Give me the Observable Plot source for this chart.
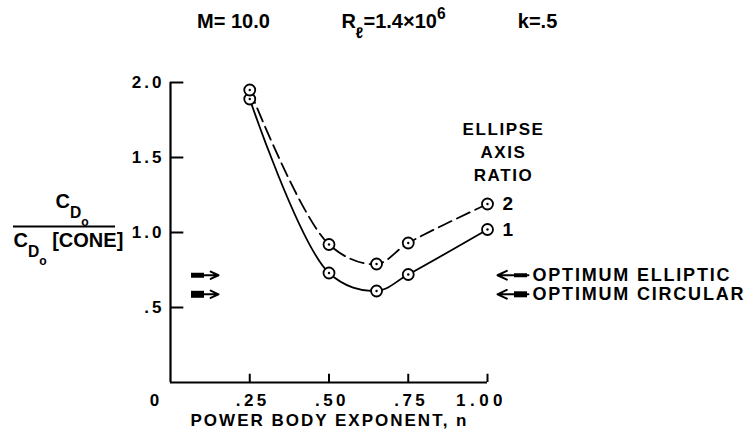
<!DOCTYPE html>
<html><head><meta charset="utf-8">
<script src="https://cdn.jsdelivr.net/npm/d3@7"></script>
<script src="https://cdn.jsdelivr.net/npm/@observablehq/plot@0.6"></script>
<style>
body{margin:0;background:#fff;}
#chart svg{display:block;}
</style></head><body><div id="chart"></div>
<script>
// ---- data ----
const exponents = [0.25, 0.50, 0.65, 0.75, 1.00];
const ratio1 = [1.89, 0.73, 0.61, 0.72, 1.02];
const ratio2 = [1.95, 0.92, 0.79, 0.93, 1.19];
const seriesNames = ["1", "2"];
const optimumNames = ["OPTIMUM ELLIPTIC", "OPTIMUM CIRCULAR"];
const optimumValues = [0.715, 0.588];
const xTicks = [0, 0.25, 0.5, 0.75, 1.0];
const xTickLabels = ["0", ".25", ".50", ".75", "1.00"];
const yTicks = [0.5, 1.0, 1.5, 2.0];
const yTickLabels = [".5", "1.0", "1.5", "2.0"];
const headerTexts = ["M= 10.0", "R_{ℓ}=1.4×10^{6}", "k=.5"];
const xTitle = "POWER BODY EXPONENT, n";
const legendTitle = "ELLIPSE\nAXIS\nRATIO";

// ---- layout ----
const W = 746, H = 438;
const M = {left: 170, right: 259, top: 82, bottom: 56};
const px2x = p => (p - M.left) / (W - M.left - M.right);
const px2y = p => 2 * (H - M.bottom - p) / (H - M.top - M.bottom);

const series = [ratio1, ratio2].map((vals, k) =>
  exponents.map((n, i) => ({n, v: vals[i], ratio: seriesNames[k]})));
const allPts = series.flat();
const lastPts = series.map(s => s[s.length - 1]);

const FONT = "'Liberation Sans', Arial, sans-serif";
const T = (data, o) => Plot.text(data, {fontWeight: "bold", fill: "black", ...o});
const note = (txt, px, py, o = {}) => T([txt], {x: px2x(px), y: px2y(py), text: d => d, ...o});

const arrowRows = optimumValues.map((v, i) => ({v, name: optimumNames[i]}));

const plot = Plot.plot({
  width: W, height: H,
  marginLeft: M.left, marginRight: M.right, marginTop: M.top, marginBottom: M.bottom,
  x: {domain: [0, 1], axis: null},
  y: {domain: [0, 2], axis: null},
  style: {fontFamily: FONT, background: "white", color: "black"},
  marks: [
    // axes
    Plot.ruleX([0], {y1: 0, y2: 2, strokeWidth: 2.2}),
    Plot.ruleY([0], {x1: 0, x2: 1, strokeWidth: 2.2}),
    Plot.ruleY(yTicks, {x1: 0, x2: 0.042, strokeWidth: 2}),
    Plot.ruleX(xTicks.slice(1), {y1: 0, y2: 0.055, strokeWidth: 2}),
    T(yTicks, {x: 0, y: d => d, text: (d, i) => yTickLabels[i], textAnchor: "end", dx: -6, fontSize: 17}),
    T(xTicks.slice(0, 1), {x: d => d, y: 0, text: (d, i) => xTickLabels[i], dx: -16, dy: 18, fontSize: 17}),
    T(xTicks.slice(1, 4), {x: d => d, y: 0, text: (d, i) => xTickLabels[i + 1], dx: 3, dy: 18, fontSize: 17}),
    T(xTicks.slice(4), {x: d => d, y: 0, text: (d, i) => xTickLabels[4], dx: -6, dy: 18, fontSize: 17}),
    note(xTitle, 329, 420, {fontSize: 17}),
    // y label (fraction)
    note("C_{D_{o}}", 55, 201, {textAnchor: "start", fontSize: 20}),
    Plot.ruleY([px2y(226)], {x1: px2x(13), x2: px2x(115), strokeWidth: 2}),
    note("C_{D_{o}} [CONE]", 13, 240, {textAnchor: "start", fontSize: 20}),
    // header
    note(headerTexts[0], 233, 21, {fontSize: 20}),
    note(headerTexts[1], 393, 21, {fontSize: 20}),
    note(headerTexts[2], 537, 21, {fontSize: 20}),
    // curves
    Plot.line(series[1], {x: "n", y: "v", curve: "catmull-rom", stroke: "black", strokeWidth: 1.8, strokeDasharray: "14,6"}),
    Plot.line(series[0], {x: "n", y: "v", curve: "catmull-rom", stroke: "black", strokeWidth: 1.8}),
    Plot.dot(allPts, {x: "n", y: "v", r: 5.5, fill: "white", stroke: "black", strokeWidth: 1.8}),
    Plot.dot(allPts, {x: "n", y: "v", r: 1.2, fill: "black"}),
    // series labels
    T(lastPts, {x: "n", y: "v", text: "ratio", textAnchor: "start", dx: 15, fontSize: 19}),
    note(legendTitle, 503, 150, {fontSize: 17, lineHeight: 1.36}),
    // optimum arrows, left side (pointing right)
    Plot.arrow(arrowRows, {x1: px2x(192), x2: px2x(218), y1: "v", y2: "v", headLength: 8, headAngle: 50, strokeWidth: 2}),
    Plot.ruleY(arrowRows, {y: "v", x1: px2x(191), x2: px2x(204), strokeWidth: (d, i) => i === 0 ? 5 : 7}),
    // optimum arrows, right side (pointing left)
    Plot.arrow(arrowRows, {x1: px2x(528), x2: px2x(497), y1: "v", y2: "v", headLength: 8, headAngle: 50, strokeWidth: 2}),
    Plot.ruleY(arrowRows, {y: "v", x1: px2x(514), x2: px2x(527), strokeWidth: (d, i) => i === 0 ? 4 : 6}),
    T(arrowRows, {x: px2x(532), y: "v", text: "name", textAnchor: "start", fontSize: 18})
  ]
});
document.getElementById("chart").appendChild(plot);

// ---- letter spacing for the wide lettering of the original ----
const spacing = new Map([
  ...yTickLabels.map(s => [s, 3]),
  ...xTickLabels.slice(1, 4).map(s => [s, 3.5]),
  [xTickLabels[4], 4.5],
  [xTitle, 2],
  ...optimumNames.map(s => [s, 1.8]),
  [legendTitle.replace(/\n/g, ""), 1.6]
]);
d3.select(plot).selectAll("text").each(function () {
  const ls = spacing.get(this.textContent);
  if (ls != null) this.setAttribute("letter-spacing", ls + "px");
});

// ---- rich text: _{sub} and ^{sup} ----
function parseRich(s) {
  const out = []; let i = 0;
  function walk(shift, scale) {
    let buf = "";
    const flush = () => { if (buf) { out.push({text: buf, shift, scale}); buf = ""; } };
    while (i < s.length) {
      const c = s[i];
      if ((c === "_" || c === "^") && s[i + 1] === "{") {
        flush(); i += 2;
        walk(shift + (c === "_" ? 0.5 * scale : -0.45 * scale), scale * 0.78);
      } else if (c === "}") { flush(); i++; return; }
      else { buf += c; i++; }
    }
    flush();
  }
  walk(0, 1);
  return out;
}
d3.select(plot).selectAll("text").each(function () {
  const t = this.textContent;
  if (!/[_^]\{/.test(t)) return;
  const base = parseFloat(getComputedStyle(this).fontSize);
  const segs = parseRich(t);
  const el = d3.select(this);
  el.text(null);
  let prev = 0;
  for (const s of segs) {
    el.append("tspan")
      .attr("font-size", base * s.scale)
      .attr("dy", (s.shift - prev) * base)
      .text(s.text);
    prev = s.shift;
  }
});
</script></body></html>
